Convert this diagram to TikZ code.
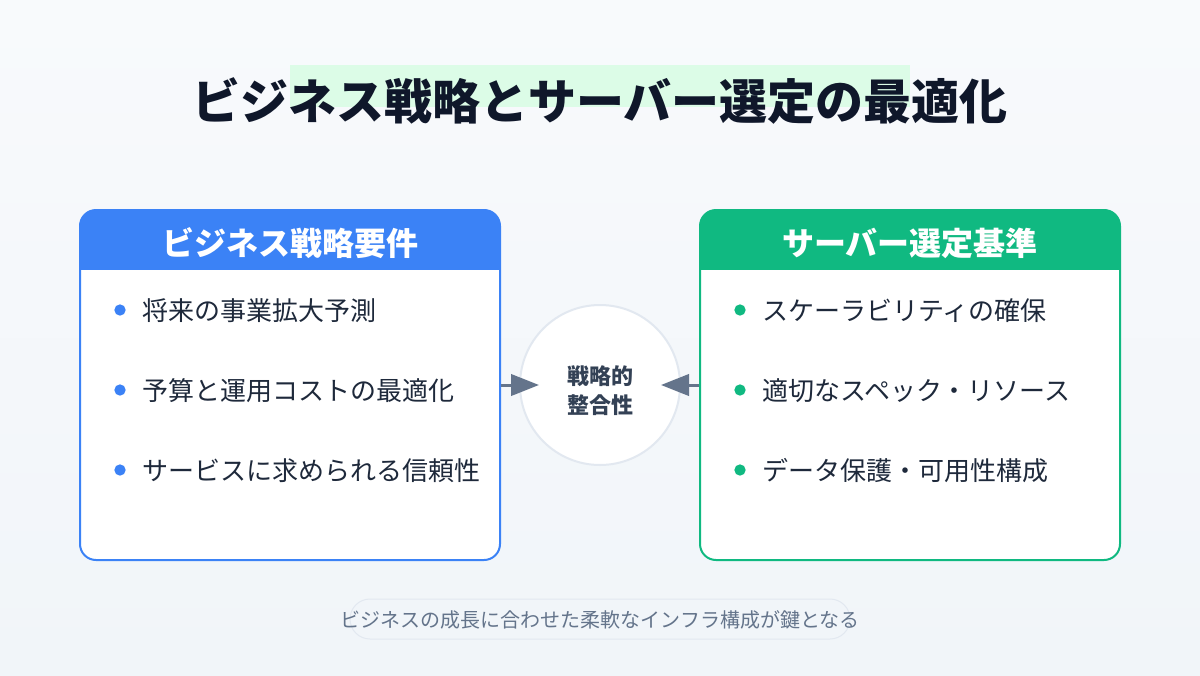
\documentclass[tikz,border=0pt]{standalone}
\usepackage{fontspec}
\setmainfont{Noto Sans CJK JP}
\usetikzlibrary{arrows.meta}

\definecolor{bgA}{HTML}{F8FAFC}
\definecolor{bgB}{HTML}{F1F5F9}
\definecolor{titletext}{HTML}{0F172A}
\definecolor{titlemark}{HTML}{DCFCE7}
\definecolor{reqblue}{HTML}{3B82F6}
\definecolor{srvgreen}{HTML}{10B981}
\definecolor{itemtext}{HTML}{1E293B}
\definecolor{fittext}{HTML}{334155}
\definecolor{circline}{HTML}{E2E8F0}
\definecolor{linkgray}{HTML}{64748B}

\begin{document}
\begin{tikzpicture}[x=0.75pt, y=-0.75pt,
	% Define the styles (1 unit = 1 px of the 1200x675 canvas)
	card/.style={fill=white, line width=1.5pt, rounded corners=12pt, inner sep=0pt,
		minimum width=315pt, minimum height=262.5pt,
		path picture={\fill[#1, sharp corners] (path picture bounding box.north west) rectangle ([yshift=-45pt]path picture bounding box.north east);}},
	head/.style={text=white, anchor=base, inner sep=0pt, font=\fontsize{24pt}{28pt}\selectfont\bfseries},
	item/.style={text=itemtext, anchor=base west, inner sep=0pt, font=\fontsize{19.5pt}{24pt}\selectfont},
	itemdot/.style={circle, inner sep=0pt, minimum size=8.5pt},
	link/.style={draw=linkgray, line width=2.25pt, -{Triangle[length=21pt, width=16pt]}}
	]
	
	% --- BACKGROUND ---
	\shade[top color=bgA, bottom color=bgB] (0,0) rectangle (1200,675);
	\useasboundingbox (0,0) rectangle (1200,675);
	
	% --- TITLE ---
	\fill[titlemark] (290,65) rectangle (910,107);
	\node[anchor=base, inner sep=0pt, text=titletext, font=\fontsize{36pt}{42pt}\selectfont\bfseries] (title) at (600,119) {ビジネス戦略とサーバー選定の最適化};
	
	% --- CARDS ---
	\node[card=reqblue, draw=reqblue] (req) at (290,385) {};
	\node[card=srvgreen, draw=srvgreen] (srv) at (910,385) {};
	\node[head] (reqhead) at (290,255) {ビジネス戦略要件};
	\node[head] (srvhead) at (910,255) {サーバー選定基準};
	
	% left items
	\node[itemdot, fill=reqblue] (rd1) at (120,310) {};
	\node[itemdot, fill=reqblue] (rd2) at (120,390) {};
	\node[itemdot, fill=reqblue] (rd3) at (120,470) {};
	\node[item] (r1) at (142,320) {将来の事業拡大予測};
	\node[item] (r2) at (142,400) {予算と運用コストの最適化};
	\node[item] (r3) at (142,480) {サービスに求められる信頼性};
	
	% right items
	\node[itemdot, fill=srvgreen] (sd1) at (740,310) {};
	\node[itemdot, fill=srvgreen] (sd2) at (740,390) {};
	\node[itemdot, fill=srvgreen] (sd3) at (740,470) {};
	\node[item] (s1) at (762,320) {スケーラビリティの確保};
	\node[item] (s2) at (762,400) {適切なスペック・リソース};
	\node[item] (s3) at (762,480) {データ保護・可用性構成};
	
	% --- CENTRE ---
	\node[circle, draw=circline, fill=white, line width=1.5pt, minimum size=120pt] (fit) at (600,385) {};
	\node[align=center, inner sep=0pt, text=fittext, font=\fontsize{16.5pt}{21.75pt}\selectfont\bfseries] (fitlabel) at (600,391) {戦略的\\整合性};
	
	% --- LINKS ---
	\coordinate (ltip) at (539,385);
	\coordinate (rtip) at (661,385);
	\draw[link] (req.east) -- (ltip);
	\draw[link] (srv.west) -- (rtip);
	
	% --- NOTE ---
	\node[draw=circline, fill=bgB, line width=0.75pt, rounded corners=15pt, minimum width=375pt, minimum height=30pt] (pill) at (600,619) {};
	\node[anchor=base, inner sep=0pt, text=linkgray, font=\fontsize{15pt}{18pt}\selectfont] (note) at (600,627) {ビジネスの成長に合わせた柔軟なインフラ構成が鍵となる};
	
\end{tikzpicture}
\end{document}
